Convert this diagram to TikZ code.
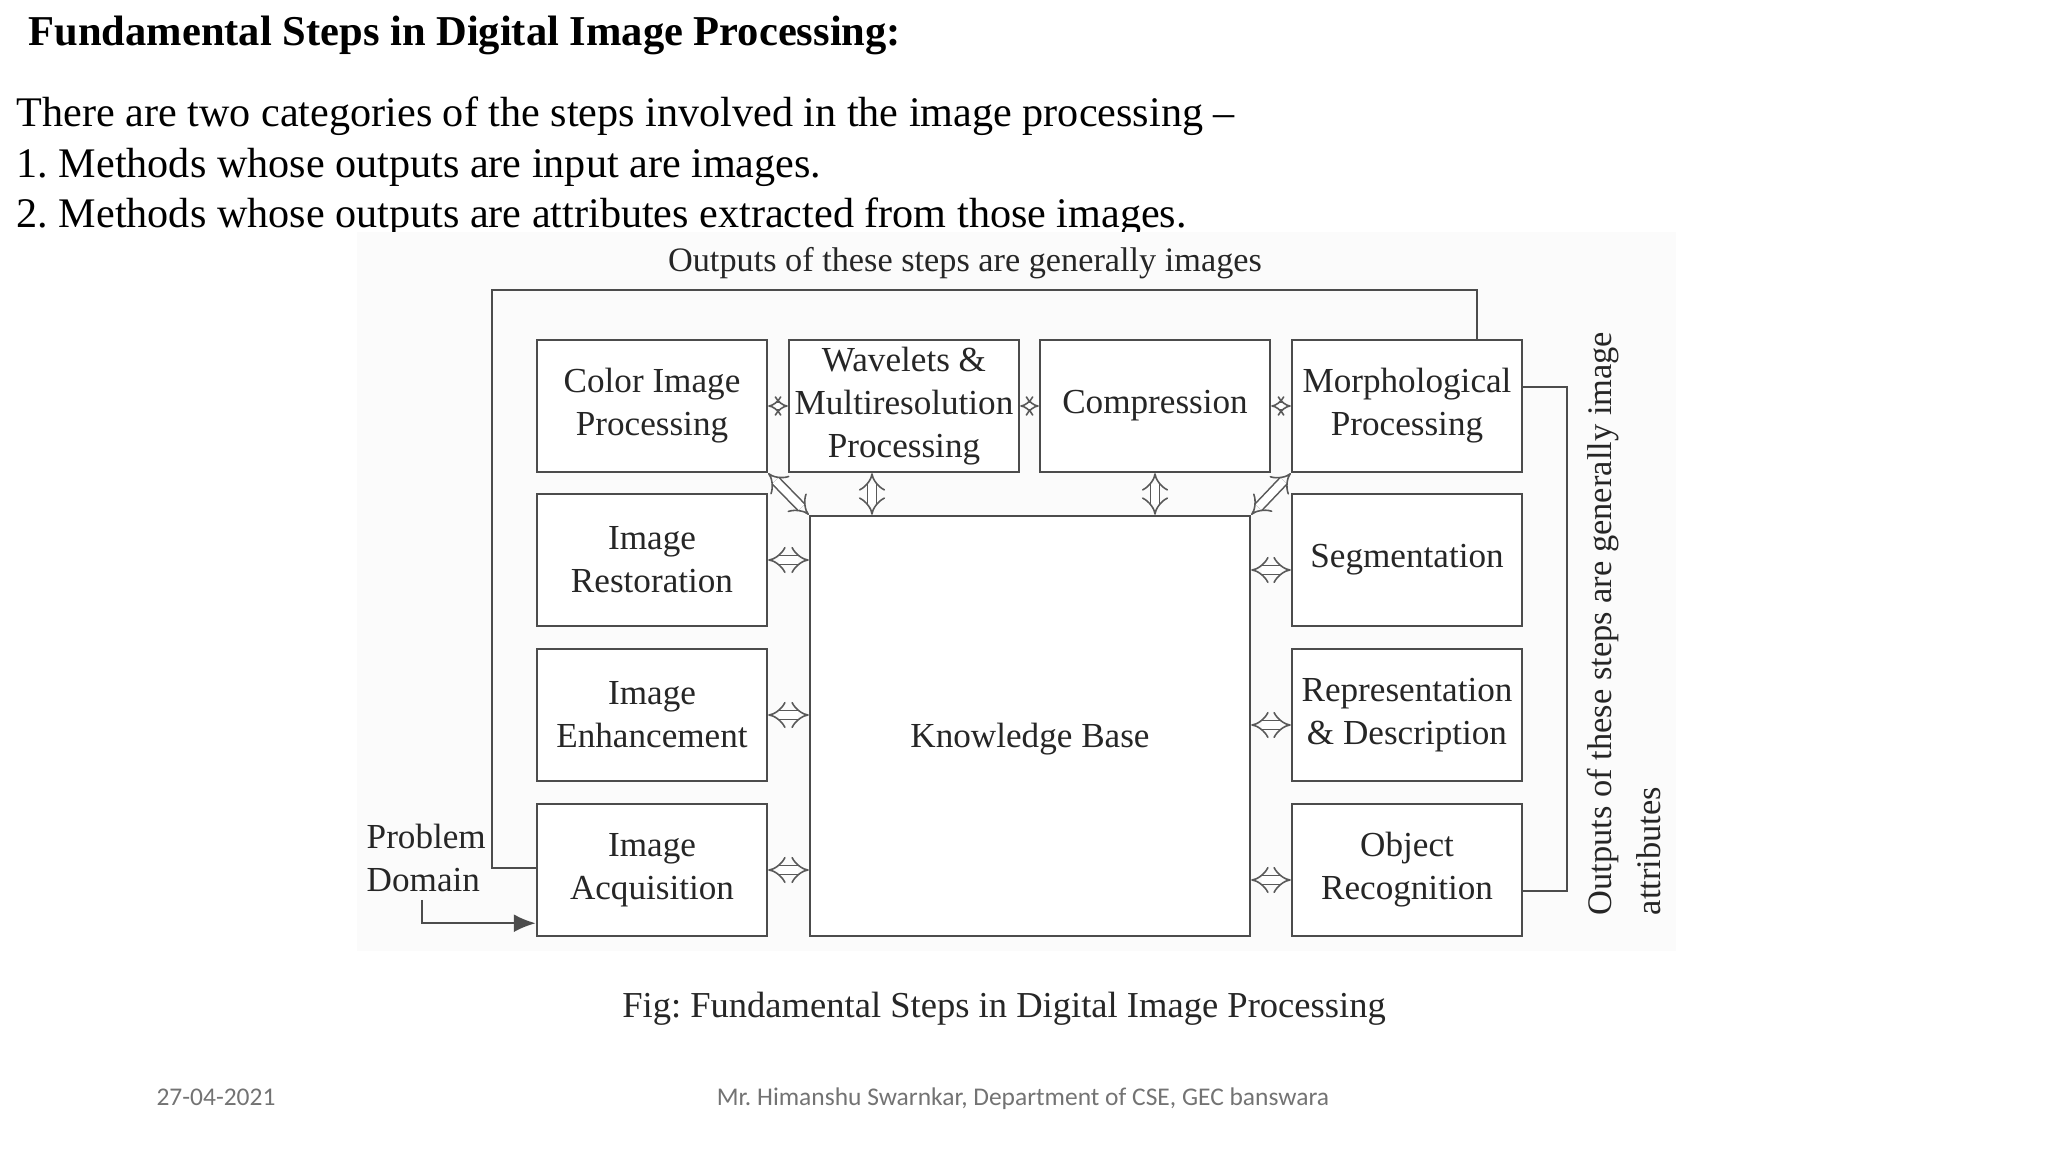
\documentclass[tikz,border=0pt]{standalone}
\usepackage{fontspec}
\setmainfont{Liberation Serif}
\newfontfamily\footfont{Carlito}
\usetikzlibrary{arrows.meta}
\frenchspacing

\begin{document}
\begin{tikzpicture}[x=0.1mm, y=-0.1mm,
    stepbox/.style={draw=black!70, line width=0.7pt, fill=white, minimum width=23mm,
        minimum height=13.2mm, inner sep=0pt, align=center,
        font=\fontsize{10}{12.2}\selectfont, text=black!85},
    link/.style={double=white, draw=black!65, line width=0.45pt, double distance=2.2pt,
        {Implies}-{Implies}},
    shortlink/.style={link, double distance=1.5pt, {Implies[scale=0.85]}-{Implies[scale=0.85]}},
    fb/.style={draw=black!70, line width=0.7pt},
    lbl/.style={inner sep=0pt, font=\fontsize{10}{12.2}\selectfont, text=black!85},
    slide/.style={inner sep=0pt, anchor=base west, font=\fontsize{12}{14.5}\selectfont}]
\useasboundingbox (0,0) rectangle (2048,1152);

% slide text
\node[slide, font=\fontsize{12.1}{14.5}\selectfont\bfseries] (title) at (28,46) {Fundamental Steps in Digital Image Processing:};
\node[slide] (intro) at (16,127) {There are two categories of the steps involved in the image processing --};
\node[slide] (one) at (16,178) {1. Methods whose outputs are input are images.};
\node[slide] (two) at (16,228) {2. Methods whose outputs are attributes extracted from those images.};

\fill[black!1.5] (357,232) rectangle (1676,951);

% steps
\node[stepbox] (color) at (652,406) {Color Image\\Processing};
\node[stepbox] (wave) at (904,406) {Wavelets \&\\Multiresolution\\Processing};
\node[stepbox] (comp) at (1155,406) {Compression};
\node[stepbox] (morph) at (1407,406) {Morphological\\Processing};
\node[stepbox] (rest) at (652,560) {Image\\Restoration};
\node[stepbox] (enh) at (652,715) {Image\\Enhancement};
\node[stepbox] (acq) at (652,870) {Image\\Acquisition};
\node[stepbox] (seg) at (1407,560) {Segmentation};
\node[stepbox] (rep) at (1407,715) {Representation\\\& Description};
\node[stepbox] (obj) at (1407,870) {Object\\Recognition};
\node[stepbox, minimum width=44mm, minimum height=42mm, text height=5mm] (kb) at (1030,726) {Knowledge Base};

% links to the knowledge base
\draw[shortlink] (color) -- (wave);
\draw[shortlink] (wave) -- (comp);
\draw[shortlink] (comp) -- (morph);
\draw[link] (color.south east) -- (kb.north west);
\draw[link] (morph.south west) -- (kb.north east);
\draw[link] ([xshift=-3.2mm]wave.south) -- ([xshift=-3.2mm]wave.south |- kb.north);
\draw[link] (comp.south) -- (comp.south |- kb.north);
\foreach \s in {rest,enh,acq}
    \draw[link] (\s.east) -- (\s.east -| kb.west);
\foreach \s in {seg,rep,obj}
    \draw[link] ([yshift=-1mm]\s.west) -- ([yshift=-1mm]\s.west -| kb.east);

% outputs
\coordinate (tl) at (492,290);
\coordinate (tr) at (1477,290);
\coordinate (br) at (1567,640);
\draw[fb] ([yshift=0.2mm]acq.west) -| (tl) -- (tr) -- (tr |- morph.north);
\node[lbl, font=\fontsize{9.75}{12}\selectfont] (imgout) at (965,263) {Outputs of these steps are generally images};
\draw[fb] ([yshift=1.9mm]morph.east) -| (br) |- ([yshift=-2.1mm]obj.east);
\node[lbl, rotate=90, anchor=west, align=left, font=\fontsize{9.8}{13.7}\selectfont] (attrout) at (1624,916)
    {Outputs of these steps are generally image\\attributes};

% problem domain
\node[lbl, align=left, anchor=west] (prob) at (366,858) {Problem\\Domain};
\coordinate (pd) at (422,900);
\draw[fb, -{Latex[length=2.2mm, width=1.8mm]}] (pd) |- ([yshift=1.4mm]acq.south west);

\node[lbl, font=\fontsize{10.4}{12}\selectfont] (caption) at (1004,1009) {Fig: Fundamental Steps in Digital Image Processing};

% footer
\node[inner sep=0pt, anchor=base, font=\footfont\fontsize{7.25}{8}\selectfont, text=black!55] (date) at (216,1106) {27-04-2021};
\node[inner sep=0pt, anchor=base, font=\footfont\fontsize{7.25}{8}\selectfont, text=black!55] (author) at (1023,1106) {Mr. Himanshu Swarnkar, Department of CSE, GEC banswara};
\end{tikzpicture}
\end{document}
